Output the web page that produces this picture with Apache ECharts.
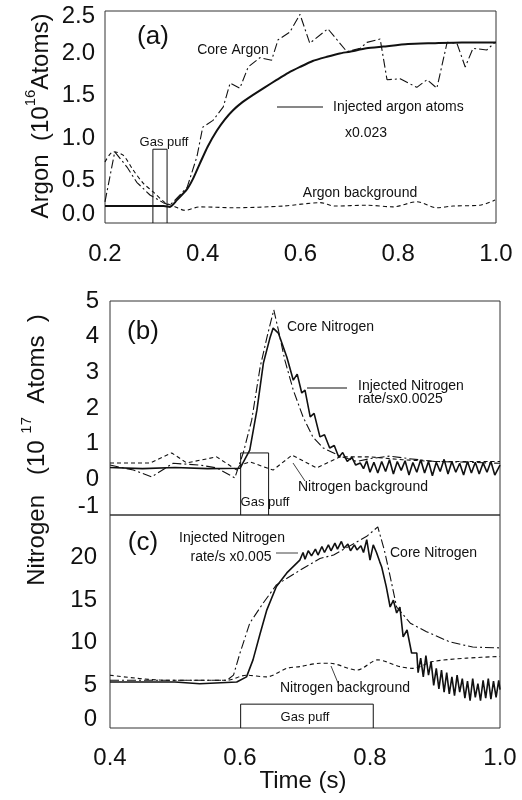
<!DOCTYPE html>
<html>
<head>
<meta charset="utf-8">
<script src="https://cdn.jsdelivr.net/npm/echarts@6/dist/echarts.min.js"></script>
<style>
  html, body { margin: 0; padding: 0; background: #fff; }
  #main { width: 522px; height: 800px; }
</style>
</head>
<body>
<div id="main"></div>
<script>
// ---- panel (a): argon, time 0.2 - 1.0 s ----
var argonCore = [[0.2,0.25],[0.22,0.84],[0.245,0.66],[0.265,0.48],[0.292,0.33],[0.319,0.24],[0.333,0.21],
  [0.368,0.42],[0.388,0.78],[0.40,1.13],[0.421,1.21],[0.442,1.37],[0.456,1.65],[0.476,1.59],[0.493,1.84],
  [0.517,1.95],[0.541,1.92],[0.554,2.16],[0.578,2.25],[0.599,2.46],[0.619,2.12],[0.656,2.29],[0.695,2.02],
  [0.722,2.06],[0.736,2.13],[0.763,2.17],[0.777,1.69],[0.804,1.70],[0.838,1.60],[0.859,1.69],[0.879,1.59],
  [0.900,2.13],[0.920,2.12],[0.937,1.84],[0.953,2.06],[0.981,2.04],[0.998,2.13]];
var argonInjected = [[0.2,0.20],[0.32,0.20],[0.333,0.19],[0.347,0.27],[0.368,0.40],[0.38,0.52],[0.394,0.70],
  [0.41,0.90],[0.429,1.09],[0.445,1.22],[0.462,1.33],[0.48,1.42],[0.503,1.51],[0.527,1.60],[0.552,1.69],
  [0.575,1.77],[0.599,1.84],[0.625,1.91],[0.654,1.96],[0.68,2.00],[0.701,2.02],[0.735,2.06],[0.769,2.08],
  [0.82,2.11],[0.871,2.12],[0.93,2.13],[1.0,2.13]];
var argonBackground = [[0.2,0.72],[0.217,0.84],[0.237,0.80],[0.257,0.63],[0.278,0.47],[0.298,0.37],[0.323,0.24],
  [0.34,0.20],[0.364,0.15],[0.394,0.19],[0.462,0.18],[0.565,0.20],[0.64,0.24],[0.67,0.20],[0.735,0.21],
  [0.789,0.19],[0.838,0.25],[0.879,0.18],[0.912,0.20],[0.967,0.21],[0.998,0.27]];
var argonPuff = [[0.298,0],[0.298,0.87],[0.327,0.87],[0.327,0]];

// ---- panel (b): nitrogen, 1e17 atoms ----
var nCoreB = [[0.4,0.40],[0.436,0.26],[0.464,0.07],[0.497,0.45],[0.538,0.40],[0.564,0.32],[0.592,0.04],
  [0.605,0.74],[0.618,1.66],[0.631,3.15],[0.643,4.10],[0.652,4.75],[0.659,4.19],[0.669,3.34],[0.682,2.50],
  [0.697,1.75],[0.712,1.19],[0.728,0.88],[0.754,0.65],[0.78,0.50],[0.80,0.58],[0.83,0.65],[0.86,0.58],
  [0.90,0.50],[0.95,0.48],[1.0,0.45]];
var nInjectedB = [[0.4,0.33],[0.45,0.30],[0.5,0.33],[0.55,0.30],[0.6,0.31],[0.615,0.82],[0.626,1.94],
  [0.636,3.26],[0.646,3.96],[0.651,4.24],[0.659,4.10],[0.672,3.43],[0.682,2.78],[0.688,2.95],[0.695,2.42],
  [0.70,2.50],[0.708,1.75],[0.714,1.85],[0.723,1.19],[0.73,1.25],[0.738,0.88],[0.745,0.95],[0.752,0.62],
  [0.758,0.75],[0.765,0.50],[0.772,0.62],[0.778,0.40],[0.785,0.46],[0.79,0.30],[0.795,0.52],[0.80,0.20],
  [0.806,0.48],[0.812,0.18],[0.818,0.50],[0.824,0.22],[0.83,0.55],[0.836,0.15],[0.842,0.50],[0.848,0.25],
  [0.854,0.52],[0.86,0.12],[0.866,0.47],[0.872,0.20],[0.878,0.55],[0.884,0.18],[0.89,0.50],[0.896,0.10],
  [0.902,0.48],[0.908,0.22],[0.914,0.56],[0.92,0.15],[0.926,0.50],[0.932,0.20],[0.938,0.45],[0.944,0.12],
  [0.95,0.50],[0.956,0.18],[0.962,0.48],[0.968,0.15],[0.974,0.46],[0.98,0.20],[0.986,0.50],[0.992,0.12],[1.0,0.40]];
var nBackgroundB = [[0.4,0.46],[0.462,0.46],[0.495,0.74],[0.518,0.46],[0.564,0.63],[0.595,0.26],[0.6,0.40],
  [0.615,0.49],[0.651,0.26],[0.68,0.68],[0.718,0.32],[0.738,0.49],[0.754,0.63],[0.80,0.63],[0.85,0.55],
  [0.90,0.50],[1.0,0.50]];
var nPuffB = [[0.601,-1],[0.601,0.74],[0.644,0.74],[0.644,-1]];

// ---- panel (c): nitrogen ----
var nCoreC = [[0.4,5.6],[0.58,5.6],[0.59,6.2],[0.6,8.8],[0.615,12.3],[0.636,14.7],[0.656,16.8],[0.692,18.5],
  [0.723,19.9],[0.744,20.3],[0.795,22.5],[0.812,23.6],[0.822,20.9],[0.831,17.8],[0.841,14.2],[0.862,12.3],
  [0.887,11.3],[0.923,10.1],[0.958,9.5],[1.0,9.4]];
var nInjectedC = [[0.4,5.4],[0.5,5.4],[0.538,5.2],[0.595,5.4],[0.61,6.0],[0.62,8.0],[0.631,11.1],[0.641,13.8],
  [0.656,16.6],[0.672,18.2],[0.692,19.7],[0.697,20.6],[0.70,19.8],[0.705,20.8],[0.71,20.2],[0.716,21.0],
  [0.72,20.3],[0.726,21.3],[0.73,20.6],[0.736,21.5],[0.74,20.8],[0.746,21.7],[0.75,21.0],[0.756,21.9],
  [0.76,21.1],[0.766,21.6],[0.77,20.8],[0.776,21.5],[0.78,20.9],[0.786,21.4],[0.79,20.6],[0.795,22.1],
  [0.80,19.7],[0.805,21.5],[0.81,20.6],[0.815,19.5],[0.818,18.9],[0.825,16.6],[0.831,14.2],[0.836,15.0],
  [0.841,13.5],[0.846,14.2],[0.851,10.7],[0.857,11.5],[0.864,8.8],[0.872,8.8],[0.874,6.5],[0.878,8.2],
  [0.882,6.0],[0.886,8.5],[0.89,6.2],[0.894,7.8],[0.898,5.0],[0.902,7.0],[0.906,4.6],[0.91,6.8],[0.914,4.2],
  [0.918,6.5],[0.922,4.0],[0.926,6.0],[0.93,3.8],[0.934,6.2],[0.938,4.2],[0.942,5.8],[0.946,3.5],[0.95,5.5],
  [0.954,3.2],[0.958,5.8],[0.962,3.6],[0.966,5.2],[0.97,3.2],[0.974,5.6],[0.978,3.5],[0.982,5.8],[0.986,3.4],
  [0.99,5.5],[0.994,3.6],[0.998,5.6],[1.0,4.5]];
var nBackgroundC = [[0.4,6.2],[0.487,5.6],[0.58,5.6],[0.61,6.2],[0.641,6.0],[0.672,7.0],[0.692,7.2],[0.723,7.6],
  [0.738,7.6],[0.78,6.8],[0.812,8.0],[0.846,7.2],[0.866,7.0],[0.897,7.8],[0.949,8.2],[1.0,8.4]];
var nPuffC = [[0.601,0],[0.601,2.8],[0.805,2.8],[0.805,0]];

var FONT = 'Liberation Sans, Arial, Helvetica, sans-serif';
var INK = '#111';
var dashDot = [9, 3, 2, 3];
var dashed = [4, 3];

function line(data, xi, type, width, smooth) {
  return {
    type: 'line', xAxisIndex: xi, yAxisIndex: xi, data: data,
    symbol: 'none', smooth: smooth || false, silent: true,
    lineStyle: { color: INK, width: width, type: type }
  };
}

function xAx(gi, min, showLabel, margin) {
  return {
    type: 'value', gridIndex: gi, min: min, max: 1.0, interval: 0.2,
    axisLine: { show: false }, axisTick: { show: false }, splitLine: { show: false },
    axisLabel: { show: showLabel, fontSize: 24, fontFamily: FONT, color: INK, margin: margin,
      formatter: function (v) { return v.toFixed(1); } }
  };
}

function richLabel(size) {
  return {
    lo: { fontSize: size, fontFamily: FONT, color: INK, padding: [0, 0, 18, 0] },
    hi: { fontSize: size, fontFamily: FONT, color: INK, padding: [10, 0, 0, 0] }
  };
}

function txt(x, y, s, size, align) {
  return { type: 'text', x: x, y: y, silent: true,
    style: { text: s, fontSize: size, fontFamily: FONT, fill: INK, align: align || 'left', verticalAlign: 'middle' } };
}
function seg(x1, y1, x2, y2, w) {
  return { type: 'line', silent: true, shape: { x1: x1, y1: y1, x2: x2, y2: y2 },
    style: { stroke: INK, lineWidth: w || 1 } };
}
function vtitle(x, y, a, sup, b) {
  return { type: 'text', x: x, y: y, rotation: Math.PI / 2, silent: true,
    style: { text: '{m|' + a + '}{s|' + sup + '}{m|' + b + '}', align: 'center', verticalAlign: 'middle',
      rich: { m: { fontSize: 24, fontFamily: FONT, fill: INK, color: INK, lineHeight: 30, verticalAlign: 'bottom' },
              s: { fontSize: 15, fontFamily: FONT, fill: INK, color: INK, verticalAlign: 'top' } } } };
}

var chart = echarts.init(document.getElementById('main'));
chart.setOption({
  animation: false,
  backgroundColor: '#fff',
  grid: [
    { left: 105, top: 11, width: 391, height: 212, show: true, borderColor: '#333', borderWidth: 1 },
    { left: 110, top: 301, width: 390, height: 214, show: true, borderColor: '#333', borderWidth: 1 },
    { left: 110, top: 515, width: 390, height: 213, show: true, borderColor: '#333', borderWidth: 1 }
  ],
  xAxis: [xAx(0, 0.2, true, 19), xAx(1, 0.4, false, 0), xAx(2, 0.4, true, 18)],
  yAxis: [
    { type: 'value', gridIndex: 0, min: 0, max: 2.5, interval: 0.5,
      axisLine: { show: false }, axisTick: { show: false }, splitLine: { show: false },
      axisLabel: { fontSize: 24, fontFamily: FONT, color: INK, margin: 10, rich: richLabel(24),
        formatter: function (v) { return v === 0 ? '{lo|0.0}' : (v === 2.5 ? '{hi|2.5}' : v.toFixed(1)); } } },
    { type: 'value', gridIndex: 1, min: -1, max: 5, interval: 1,
      axisLine: { show: false }, axisTick: { show: false }, splitLine: { show: false },
      axisLabel: { fontSize: 24, fontFamily: FONT, color: INK, margin: 11, rich: richLabel(24),
        formatter: function (v) { return v === -1 ? '{lo|-1}' : String(v); } } },
    { type: 'value', gridIndex: 2, min: 0, max: 25, interval: 5,
      axisLine: { show: false }, axisTick: { show: false }, splitLine: { show: false },
      axisLabel: { fontSize: 24, fontFamily: FONT, color: INK, margin: 13, rich: richLabel(24),
        formatter: function (v) { return v === 25 ? '' : (v === 0 ? '{lo|0}' : String(v)); } } }
  ],
  series: [
    line(argonPuff, 0, 'solid', 1),
    line(argonBackground, 0, dashed, 1.1, 0.3),
    line(argonCore, 0, dashDot, 1.1),
    line(argonInjected, 0, 'solid', 2, 0.2),
    line(nPuffB, 1, 'solid', 1),
    line(nBackgroundB, 1, dashed, 1.1),
    line(nCoreB, 1, dashDot, 1.1),
    line(nInjectedB, 1, 'solid', 1.6),
    line(nPuffC, 2, 'solid', 1),
    line(nBackgroundC, 2, dashed, 1.1, 0.3),
    line(nCoreC, 2, dashDot, 1.1),
    line(nInjectedC, 2, 'solid', 1.6)
  ],
  graphic: [
    vtitle(38, 116, 'Argon  (10', '16', 'Atoms)'),
    vtitle(34, 450, 'Nitrogen   (10 ', '17', '  Atoms  )'),
    txt(303, 781, 'Time (s)', 24, 'center'),
    // panel (a)
    txt(153, 37, '(a)', 26, 'center'),
    txt(233, 50, 'Core Argon', 14, 'center'),
    seg(277, 107, 323, 107, 1.2),
    txt(333, 107, 'Injected argon atoms', 14),
    txt(345, 133, 'x0.023', 14),
    txt(164, 142, 'Gas puff', 13, 'center'),
    txt(360, 193, 'Argon background', 14, 'center'),
    // panel (b)
    txt(143, 332, '(b)', 26, 'center'),
    txt(287, 327, 'Core Nitrogen', 14),
    seg(307, 388, 347, 388, 1.2),
    txt(358, 386, 'Injected Nitrogen', 14),
    txt(358, 399, 'rate/sx0.0025', 14),
    seg(293, 463, 305, 481, 0.8),
    txt(298, 487, 'Nitrogen background', 14),
    txt(265, 502, 'Gas puff', 13, 'center'),
    // panel (c)
    txt(143, 543, '(c)', 26, 'center'),
    txt(232, 538, 'Injected Nitrogen', 14, 'center'),
    txt(231, 557, 'rate/s x0.005', 14, 'center'),
    seg(276, 553, 298, 553, 0.8),
    txt(390, 553, 'Core Nitrogen', 14),
    seg(331, 666, 338, 683, 0.8),
    txt(280, 688, 'Nitrogen background', 14),
    txt(305, 717, 'Gas puff', 13, 'center')
  ]
});
</script>
</body>
</html>
